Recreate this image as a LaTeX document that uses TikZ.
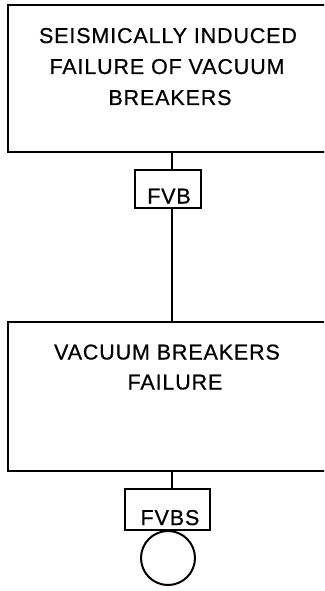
\documentclass[tikz,border=0pt]{standalone}
\usepackage{fontspec}
\setmainfont{Liberation Sans}[LetterSpace=4,FakeBold=0.6]
\begin{document}
\begin{tikzpicture}[x=1pt,y=1pt,
  box/.style={draw, line width=2.2pt, inner sep=0pt, outer sep=0pt, rectangle},
  lbl/.style={inner sep=0pt, anchor=base, font=\fontsize{21.5}{30}\selectfont},
  conn/.style={line width=2pt}]
\useasboundingbox (0,0) rectangle (324,-591);
\begin{scope}
\clip (0,0) rectangle (324,-591);
\node[box, minimum width=322pt, minimum height=147pt] (top) at (169,-78.5) {};
\node[box, minimum width=322pt, minimum height=149pt] (mid) at (169,-396.5) {};
\end{scope}
\node[lbl] (t1) at (168,-43) {SEISMICALLY INDUCED};
\node[lbl] (t2) at (167,-74) {FAILURE OF VACUUM};
\node[lbl] (t3) at (170,-105) {BREAKERS};
\node[lbl] (m1) at (167,-359.5) {VACUUM BREAKERS};
\node[lbl] (m2) at (175,-389.5) {FAILURE};
\node[box, minimum width=66pt, minimum height=38pt] (fvb) at (168,-189) {};
\node[lbl] (fvbt) at (169,-203.5) {FVB};
\node[box, minimum width=85pt, minimum height=41pt] (fvbs) at (167.5,-509.5) {};
\node[lbl] (fvbst) at (170,-525) {FVBS};
\node[draw, circle, line width=2pt, minimum size=54pt, inner sep=0pt, outer sep=0pt] (circ) at (168,-558) {};
\draw[conn] ([xshift=4pt]fvb.north |- top.south) -- ([xshift=4pt]fvb.north);
\draw[conn] ([xshift=4pt]fvb.south) -- ([xshift=4pt]fvb.south |- mid.north);
\draw[conn] ([xshift=4pt]fvb.south |- mid.south) -- ([xshift=4pt]fvb.south |- fvbs.north);
\end{tikzpicture}
\end{document}
